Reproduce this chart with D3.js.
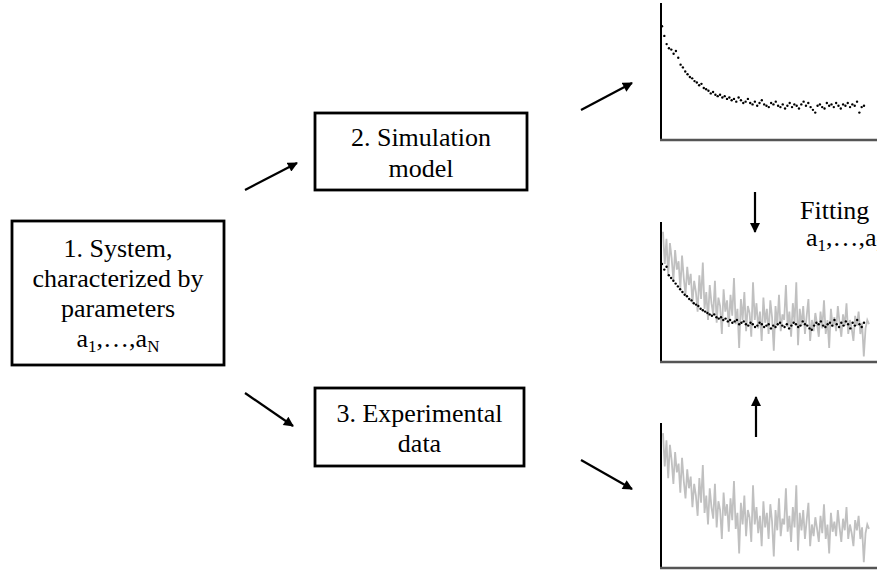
<!DOCTYPE html>
<html>
<head>
<meta charset="utf-8">
<script src="https://cdn.jsdelivr.net/npm/d3@7"></script>
<style>
  body { margin: 0; background: #fff; }
  svg { display: block; }
</style>
</head>
<body>
<svg id="chart"></svg>
<script>
// box texts
var systemLines = ["1. System,", "characterized by", "parameters"];
var simLines = ["2. Simulation", "model"];
var expLines = ["3. Experimental", "data"];
var fitLabel = "Fitting";

// simulated curve (top panel), values on 0-100 of panel height
var simTop = [83, 76, 70, 67, 66, 63, 65, 60, 55, 53, 50, 48, 46, 45, 43, 42, 40, 41, 38, 37,
    36, 34, 35, 33, 32, 33, 31, 32, 30, 31, 29, 30, 28, 31, 29, 27, 28, 30, 27, 26,
    28, 25, 27, 29, 26, 25, 24, 27, 26, 28, 25, 24, 26, 23, 25, 27, 24, 26, 25, 23,
    26, 28, 25, 27, 24, 22, 20, 25, 26, 24, 23, 27, 25, 26, 24, 27, 25, 23, 26, 25,
    27, 24, 26, 25, 28, 20, 24, 25];

// fitted simulation (middle panel)
var simFit = [70, 66, 68, 62, 60, 58, 56, 54, 52, 50, 48, 47, 45, 44, 42, 41, 40, 38, 37, 36,
    35, 34, 33, 34, 32, 31, 32, 30, 31, 29, 30, 28, 29, 30, 27, 28, 29, 27, 26, 28,
    27, 25, 26, 28, 27, 25, 26, 27, 24, 26, 25, 27, 28, 26, 25, 27, 24, 26, 28, 27,
    25, 26, 29, 27, 26, 24, 23, 26, 28, 27, 29, 26, 25, 27, 28, 26, 30, 27, 25, 28,
    26, 29, 27, 24, 28, 26, 30, 27, 25, 28];

// experimental data (middle + bottom panel)
var expData = [93, 70, 88, 62, 85, 74, 58, 80, 66, 72,
    52, 76, 60, 48, 68, 55, 63, 42, 58, 50,
    36, 62, 45, 71, 38, 50, 30, 55, 42, 34,
    58, 28, 46, 40, 20, 52, 36, 44, 25, 48,
    33, 60, 27, 38, 10, 45, 30, 50, 22, 40,
    35, 18, 57, 30, 42, 24, 36, 15, 46, 28,
    38, 20, 44, 32, 8, 40, 26, 48, 22, 34,
    30, 55, 25, 36, 18, 42, 28, 57, 12, 38,
    26, 40, 20, 33, 45, 15, 30, 22, 35, 27,
    18, 36, 24, 44, 20, 30, 10, 38, 25, 32,
    22, 40, 28, 18, 34, 26, 42, 20, 30, 24,
    15, 33, 26, 36, 20, 28, 4, 24, 30, 27];

var width = 877;
var height = 571;
var serif = "'Liberation Serif', 'Times New Roman', 'DejaVu Serif', serif";

var svg = d3.select("#chart").attr("width", width).attr("height", height);

svg.append("defs").append("marker")
    .attr("id", "head")
    .attr("viewBox", "0 0 10 10")
    .attr("refX", 9)
    .attr("refY", 5)
    .attr("markerUnits", "userSpaceOnUse")
    .attr("markerWidth", 11)
    .attr("markerHeight", 10)
    .attr("orient", "auto")
    .append("path")
    .attr("d", "M0,0 L10,5 L0,10 z")
    .attr("fill", "#000");

// writes "a1,…,aN" with subscripts
function paramText(x, y, anchor) {
    var t = svg.append("text").attr("x", x).attr("y", y)
        .attr("text-anchor", anchor)
        .attr("font-family", serif)
        .attr("font-size", 26);
    t.append("tspan").text("a");
    t.append("tspan").attr("dy", 5).attr("font-size", 17).text("1");
    t.append("tspan").attr("dy", -5).text(",…,a");
    t.append("tspan").attr("dy", 5).attr("font-size", 17).text("N");
    return t;
}

function box(x0, y0, x1, y1, lines, firstBase, step) {
    svg.append("rect")
        .attr("x", x0).attr("y", y0)
        .attr("width", x1 - x0).attr("height", y1 - y0)
        .attr("fill", "none").attr("stroke", "#000").attr("stroke-width", 2.8);
    lines.forEach(function (l, i) {
        svg.append("text")
            .attr("x", (x0 + x1) / 2)
            .attr("y", firstBase + i * step)
            .attr("text-anchor", "middle")
            .attr("font-family", serif)
            .attr("font-size", 26)
            .text(l);
    });
}

box(12, 221, 224, 365, systemLines, 257, 30);
paramText(118, 347, "middle");
box(315, 113, 527, 190, simLines, 146, 31);
box(315, 388, 524, 466, expLines, 422, 30);

function arrow(x1, y1, x2, y2) {
    svg.append("line")
        .attr("x1", x1).attr("y1", y1).attr("x2", x2).attr("y2", y2)
        .attr("stroke", "#000").attr("stroke-width", 2.2)
        .attr("marker-end", "url(#head)");
}

arrow(245, 190, 297, 163);
arrow(245, 393, 293, 426);
arrow(581, 110, 632, 83);
arrow(581, 460, 632, 489);
arrow(755, 192, 755, 232);
arrow(756, 437, 756, 397);

svg.append("text").attr("x", 800).attr("y", 219)
    .attr("font-family", serif).attr("font-size", 26).text(fitLabel);
paramText(806, 246, "start");

// panels
var panels = [
    { top: 3, bottom: 140, dots: simTop, line: null },
    { top: 222, bottom: 362, dots: simFit, line: expData },
    { top: 423, bottom: 568, dots: null, line: expData }
];

panels.forEach(function (p) {
    var g = svg.append("g");
    var y = d3.scaleLinear().domain([0, 100]).range([p.bottom, p.top]);

    if (p.line) {
        var xl = d3.scaleLinear().domain([0, p.line.length - 1]).range([663, 869]);
        g.append("path")
            .datum(p.line)
            .attr("fill", "none")
            .attr("stroke", "#c0c0c0")
            .attr("stroke-width", 1.8)
            .attr("d", d3.line().x(function (d, i) { return xl(i); }).y(function (d) { return y(d); }));
    }
    if (p.dots) {
        var xd = d3.scaleLinear().domain([0, p.dots.length - 1]).range([662, 864]);
        g.selectAll("circle")
            .data(p.dots)
            .enter()
            .append("circle")
            .attr("cx", function (d, i) { return xd(i); })
            .attr("cy", function (d) { return y(d); })
            .attr("r", 1.2)
            .attr("fill", "#000");
    }

    g.append("line")
        .attr("x1", 661).attr("x2", 661)
        .attr("y1", p.top).attr("y2", p.bottom)
        .attr("stroke", "#000").attr("stroke-width", 2);
    g.append("line")
        .attr("x1", 660).attr("x2", 877)
        .attr("y1", p.bottom).attr("y2", p.bottom)
        .attr("stroke", "#555").attr("stroke-width", 2.5);
});
</script>
</body>
</html>
